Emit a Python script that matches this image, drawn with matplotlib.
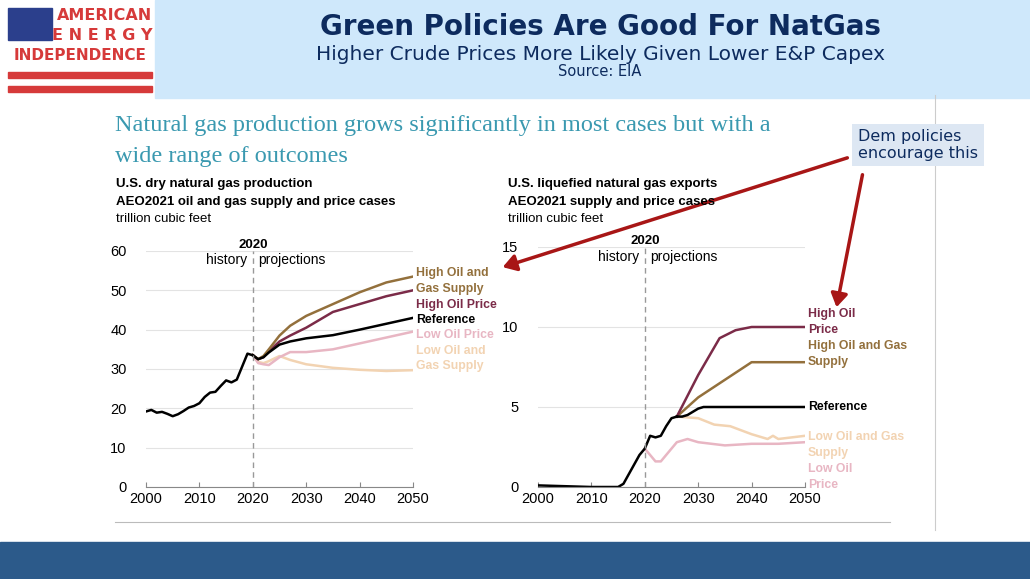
import matplotlib
matplotlib.use('Agg')
import matplotlib.pyplot as plt
from matplotlib.patches import Rectangle, FancyArrowPatch

W, H = 1030, 579

# left chart: dry gas production (tcf)
hist_years = list(range(2000, 2021))
hist_prod = [19.2, 19.6, 18.9, 19.1, 18.6, 18.0, 18.5, 19.3, 20.2, 20.6, 21.3,
             22.9, 24.0, 24.2, 25.7, 27.1, 26.6, 27.3, 30.6, 33.9, 33.5]
proj_years = [2020, 2021, 2022, 2023, 2025, 2027, 2030, 2035, 2040, 2045, 2050]
prod_ref = [33.5, 32.5, 33.0, 34.2, 36.2, 37.0, 37.8, 38.6, 40.0, 41.5, 43.0]
prod_high_og = [33.5, 32.5, 33.3, 35.0, 38.5, 41.0, 43.5, 46.5, 49.5, 52.0, 53.5]
prod_high_oil = [33.5, 32.5, 33.0, 34.5, 37.0, 38.5, 40.5, 44.5, 46.5, 48.5, 50.0]
prod_low_oil = [33.5, 31.5, 31.2, 31.0, 33.0, 34.3, 34.3, 35.0, 36.5, 38.0, 39.5]
prod_low_og = [33.5, 31.8, 31.5, 32.0, 33.3, 32.3, 31.2, 30.3, 29.8, 29.5, 29.7]

# right chart: LNG exports (tcf)
lng_hist_years = [2000, 2005, 2010, 2015, 2016, 2017, 2018, 2019, 2020, 2021, 2022, 2023, 2024, 2025, 2026]
lng_hist = [0.1, 0.05, 0.0, 0.0, 0.2, 0.8, 1.4, 2.0, 2.4, 3.2, 3.1, 3.2, 3.8, 4.3, 4.4]
ref_years = [2026, 2027, 2028, 2030, 2031, 2050]
lng_ref = [4.4, 4.4, 4.5, 4.9, 5.0, 5.0]
hop_years = [2026, 2030, 2034, 2037, 2040, 2050]
lng_high_oil = [4.4, 7.0, 9.3, 9.8, 10.0, 10.0]
hog_years = [2026, 2030, 2035, 2040, 2050]
lng_high_og = [4.4, 5.6, 6.7, 7.8, 7.8]
log_years = [2026, 2030, 2033, 2036, 2040, 2043, 2044, 2045, 2050]
lng_low_og = [4.4, 4.3, 3.9, 3.8, 3.3, 3.0, 3.2, 3.0, 3.2]
lop_years = [2020, 2021, 2022, 2023, 2025, 2026, 2028, 2030, 2035, 2040, 2045, 2050]
lng_low_oil = [2.4, 2.0, 1.6, 1.6, 2.4, 2.8, 3.0, 2.8, 2.6, 2.7, 2.7, 2.8]

C_HOG = '#93703c'
C_HOP = '#7b2b48'
C_LOP = '#e8b6c3'
C_LOG = '#f2d3b2'
NAVY = '#0d2b5e'
SANS = 'Liberation Sans'

fig = plt.figure(figsize=(W / 100, H / 100), dpi=100)
fig.patch.set_facecolor('white')


def fx(px):
    return px / W


def fy(py):
    return 1 - py / H


def rect(x0, y0, x1, y1, color):
    fig.patches.append(Rectangle((fx(x0), fy(y1)), fx(x1 - x0), (y1 - y0) / H,
                                 transform=fig.transFigure, color=color, zorder=0))


# header and footer bands
rect(155, 0, 1030, 98, '#cfe8fb')
rect(0, 542, 1030, 579, '#2c5a8a')
# logo
rect(8, 8, 52, 40, '#2b3f8c')
rect(8, 72, 152, 78, '#d63a3a')
rect(8, 86, 152, 92, '#d63a3a')
fig.text(fx(152), fy(16), 'AMERICAN', color='#d63a3a', fontsize=11.5, fontweight='bold', ha='right', va='center')
fig.text(fx(152), fy(35), 'E N E R G Y', color='#d63a3a', fontsize=11.5, fontweight='bold', ha='right', va='center')
fig.text(fx(80), fy(56), 'INDEPENDENCE', color='#d63a3a', fontsize=11, fontweight='bold', ha='center', va='center')

fig.text(fx(600), fy(27), 'Green Policies Are Good For NatGas', color=NAVY, fontsize=20,
         fontweight='bold', ha='center', va='center')
fig.text(fx(600), fy(54), 'Higher Crude Prices More Likely Given Lower E&P Capex', color=NAVY,
         fontsize=14.5, ha='center', va='center')
fig.text(fx(600), fy(71), 'Source: EIA', color=NAVY, fontsize=10.5, ha='center', va='center')

fig.text(fx(115), fy(125), 'Natural gas production grows significantly in most cases but with a',
         color='#3a99b0', fontsize=17.5, family='Liberation Serif', va='center')
fig.text(fx(115), fy(156), 'wide range of outcomes', color='#3a99b0', fontsize=17.5,
         family='Liberation Serif', va='center')

for x0, lines in [(116, ['U.S. dry natural gas production', 'AEO2021 oil and gas supply and price cases']),
                  (508, ['U.S. liquefied natural gas exports', 'AEO2021 supply and price cases'])]:
    fig.text(fx(x0), fy(184), lines[0], fontsize=9.5, fontweight='bold', family=SANS, va='center')
    fig.text(fx(x0), fy(202), lines[1], fontsize=9.5, fontweight='bold', family=SANS, va='center')
    fig.text(fx(x0), fy(219), 'trillion cubic feet', fontsize=9.5, family=SANS, va='center')

# vertical separator and bottom rule
fig.add_artist(plt.Line2D([fx(935), fx(935)], [fy(95), fy(530)], color='#cccccc', lw=0.8))
fig.add_artist(plt.Line2D([fx(115), fx(890)], [fy(522), fy(522)], color='#bbbbbb', lw=0.8))


def style(ax, ymax, step):
    ax.set_xlim(2000, 2050)
    ax.set_ylim(0, ymax)
    ax.set_yticks(range(0, ymax + 1, step))
    ax.set_xticks(range(2000, 2051, 10))
    for s in ['top', 'right', 'left']:
        ax.spines[s].set_visible(False)
    ax.spines['bottom'].set_color('#888888')
    ax.grid(axis='y', color='#e3e3e3', lw=0.8)
    ax.set_axisbelow(True)
    ax.tick_params(axis='y', length=0, labelsize=10.5, pad=14)
    ax.tick_params(axis='x', labelsize=10.5, color='#888888', direction='in')
    for t in ax.get_xticklabels() + ax.get_yticklabels():
        t.set_family(SANS)
    ax.axvline(2020, color='#999999', ls=(0, (4, 3)), lw=1)
    ax.text(2020, ymax * 1.0, '2020', fontsize=9.5, fontweight='bold', family=SANS, ha='center', va='bottom')
    ax.text(2019, ymax * 0.96, 'history', fontsize=10, family=SANS, ha='right', va='center')
    ax.text(2021, ymax * 0.96, 'projections', fontsize=10, family=SANS, ha='left', va='center')


# left axes
ax1 = fig.add_axes([fx(146), fy(487), fx(413 - 146), (487 - 251) / H])
ax1.plot(proj_years, prod_low_og, color=C_LOG, lw=1.8)
ax1.plot(proj_years, prod_low_oil, color=C_LOP, lw=1.8)
ax1.plot(proj_years, prod_high_oil, color=C_HOP, lw=1.8)
ax1.plot(proj_years, prod_high_og, color=C_HOG, lw=1.8)
ax1.plot(proj_years, prod_ref, color='black', lw=1.8)
ax1.plot(hist_years, hist_prod, color='black', lw=1.8)
style(ax1, 60, 10)
lab1 = [(54.3, 'High Oil and', C_HOG), (50.3, 'Gas Supply', C_HOG), (46.3, 'High Oil Price', C_HOP),
        (42.5, 'Reference', 'black'), (38.6, 'Low Oil Price', C_LOP), (34.7, 'Low Oil and', C_LOG),
        (30.7, 'Gas Supply', C_LOG)]
for y, t, c in lab1:
    ax1.text(2050.5, y, t, color=c, fontsize=8.8, fontweight='bold', family=SANS, va='center', clip_on=False)

# right axes
ax2 = fig.add_axes([fx(538), fy(487), fx(805 - 538), (487 - 247) / H])
ax2.plot(log_years, lng_low_og, color=C_LOG, lw=1.8)
ax2.plot(lop_years, lng_low_oil, color=C_LOP, lw=1.8)
ax2.plot(hog_years, lng_high_og, color=C_HOG, lw=1.8)
ax2.plot(hop_years, lng_high_oil, color=C_HOP, lw=1.8)
ax2.plot(ref_years, lng_ref, color='black', lw=1.8)
ax2.plot(lng_hist_years, lng_hist, color='black', lw=1.8)
style(ax2, 15, 5)
lab2 = [(10.8, 'High Oil', C_HOP), (9.8, 'Price', C_HOP), (8.8, 'High Oil and Gas', C_HOG),
        (7.8, 'Supply', C_HOG), (5.0, 'Reference', 'black'), (3.1, 'Low Oil and Gas', C_LOG),
        (2.1, 'Supply', C_LOG), (1.1, 'Low Oil', C_LOP), (0.1, 'Price', C_LOP)]
for y, t, c in lab2:
    ax2.text(2050.5, y, t, color=c, fontsize=8.8, fontweight='bold', family=SANS, va='center', clip_on=False)

# callout box and arrows
fig.text(fx(858), fy(145), 'Dem policies\nencourage this', color=NAVY, fontsize=11.5, va='center',
         linespacing=1.15,
         bbox=dict(boxstyle='square,pad=0.35', fc='#dde7f3', ec='none'))
fig.add_artist(FancyArrowPatch((fx(850), fy(157)), (fx(500), fy(268)), transform=fig.transFigure,
                               arrowstyle='-|>,head_length=8,head_width=5', color='#a81616', lw=2.5))
fig.add_artist(FancyArrowPatch((fx(863), fy(172)), (fx(836), fy(310)), transform=fig.transFigure,
                               arrowstyle='-|>,head_length=8,head_width=5', color='#a81616', lw=2.5))

fig.savefig('out.png', dpi=100)
